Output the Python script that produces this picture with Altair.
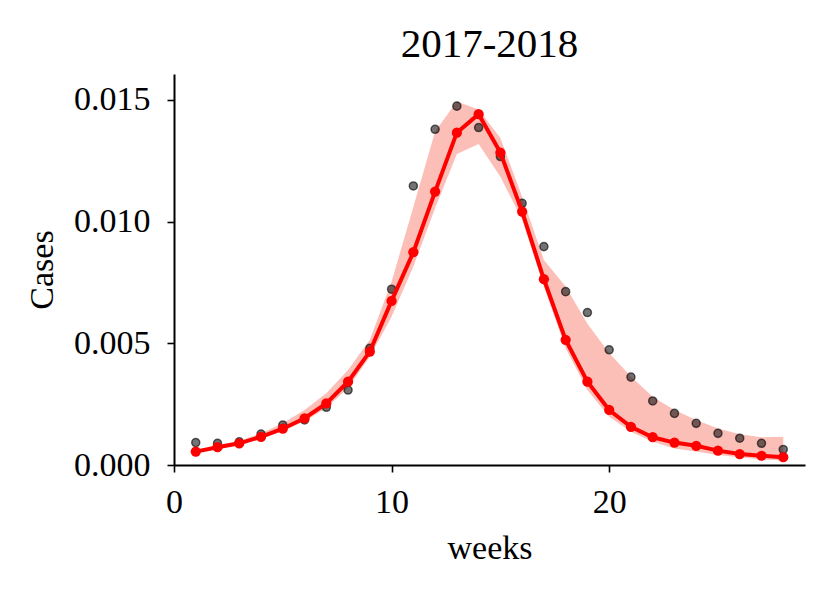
import altair as alt
import pandas as pd

weeks = list(range(1, 29))
observed = [0.00092, 0.00089, 0.00095, 0.00127, 0.00164, 0.00185, 0.00237, 0.00308,
            0.00479, 0.00722, 0.01146, 0.01379, 0.01474, 0.01386, 0.01267, 0.01075,
            0.00897, 0.00712, 0.00626, 0.00473, 0.00361, 0.00263, 0.00212, 0.00171,
            0.00130, 0.00110, 0.00089, 0.00064]
predicted = [0.00055, 0.00073, 0.00089, 0.00116, 0.00149, 0.00192, 0.00253, 0.00342,
             0.00466, 0.00674, 0.00874, 0.01123, 0.01365, 0.01441, 0.01283, 0.01041,
             0.00763, 0.00514, 0.00342, 0.00226, 0.00157, 0.00114, 0.00092, 0.00079,
             0.00059, 0.00045, 0.00038, 0.00032]
upper = [0.00062, 0.00080, 0.00099, 0.00130, 0.00171, 0.00226, 0.00295, 0.00390,
         0.00514, 0.00753, 0.01060, 0.01370, 0.01493, 0.01460, 0.01343, 0.01102,
         0.00842, 0.00733, 0.00580, 0.00460, 0.00363, 0.00280, 0.00226, 0.00185,
         0.00150, 0.00126, 0.00114, 0.00116]
lower = [0.00050, 0.00066, 0.00082, 0.00108, 0.00140, 0.00180, 0.00234, 0.00316,
         0.00445, 0.00609, 0.00815, 0.01055, 0.01277, 0.01318, 0.01184, 0.01007,
         0.00733, 0.00480, 0.00308, 0.00198, 0.00137, 0.00096, 0.00068, 0.00055,
         0.00041, 0.00032, 0.00023, 0.00020]

df = pd.DataFrame({"week": weeks, "observed": observed, "predicted": predicted,
                   "upper": upper, "lower": lower})

FONT = "Liberation Serif"

x = alt.X("week:Q", scale=alt.Scale(domain=[0, 29], nice=False, zero=False),
          axis=alt.Axis(values=[0, 10, 20], title="weeks", format="d", labelFlush=False))
y_scale = alt.Scale(domain=[0, 0.01606], nice=False)
y_axis = alt.Axis(values=[0, 0.005, 0.01, 0.015], format=".3f", title="Cases",
                  labelFlush=False)

base = alt.Chart(df)

band = base.mark_area(color="salmon", opacity=0.5).encode(
    x=x,
    y=alt.Y("upper:Q", scale=y_scale, axis=y_axis),
    y2="lower:Q",
)

obs = base.mark_point(filled=True, fill="black", fillOpacity=0.55, stroke="black",
                      strokeOpacity=0.6, strokeWidth=1.5, size=65, shape="circle").encode(
    x="week:Q",
    y="observed:Q",
)

line = base.mark_line(color="red", strokeWidth=4).encode(
    x="week:Q",
    y="predicted:Q",
)

pts = base.mark_circle(color="red", opacity=1, size=105).encode(
    x="week:Q",
    y="predicted:Q",
)

chart = alt.layer(band, obs, line, pts).properties(
    width=631,
    height=391,
    title=alt.TitleParams("2017-2018", fontSize=41, font=FONT, fontWeight="normal",
                          anchor="middle", offset=8, color="black"),
    autosize=alt.AutoSizeParams(type="none"),
    padding={"left": 166, "top": 66, "right": 16, "bottom": 119},
).configure_view(stroke=None).configure_axis(
    grid=False,
    domainColor="black",
    domainWidth=2,
    tickColor="black",
    tickWidth=1.6,
    tickSize=7,
    labelFont=FONT,
    labelFontSize=34,
    labelColor="black",
    titleFont=FONT,
    titleFontSize=34,
    titleFontWeight="normal",
    titleColor="black",
).configure_axisX(
    labelPadding=13,
    titlePadding=12,
).configure_axisY(
    labelPadding=17,
    titlePadding=14,
)

chart.save("out.html", embed_options={"renderer": "svg", "actions": False})
